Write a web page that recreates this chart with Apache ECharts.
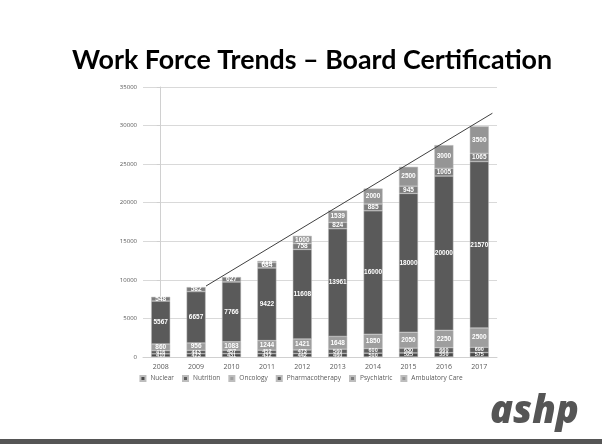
<!DOCTYPE html>
<html><head><meta charset="utf-8">
<script src="https://cdn.jsdelivr.net/npm/echarts@6/dist/echarts.min.js"></script>
<style>html,body{margin:0;padding:0;background:#fff}#c{width:602px;height:444px}</style>
</head><body><div id="c"></div>
<script>
const years = ['2008','2009','2010','2011','2012','2013','2014','2015','2016','2017'];
const nuclear = [410, 423, 431, 432, 442, 460, 500, 525, 550, 575];
const nutrition = [416, 443, 457, 452, 473, 560, 600, 630, 660, 690];
const oncology = [860, 956, 1083, 1244, 1421, 1648, 1850, 2050, 2250, 2500];
const pharmacotherapy = [5567, 6657, 7766, 9422, 11608, 13961, 16000, 18000, 20000, 21570];
const psychiatric = [548, 582, 627, 684, 758, 824, 885, 945, 1005, 1065];
const ambulatory = [null, null, null, 218, 1000, 1539, 2000, 2500, 3000, 3500];
const trendX = [1.28, 9.37];
const trendY = [9200, 31600];
const yTicks = [0, 5000, 10000, 15000, 20000, 25000, 30000, 35000];

const chart = echarts.init(document.getElementById('c'));
function bar(name, data, color, fs) {
  return {
    name, type: 'bar', stack: 'a', data, barWidth: 19,
    itemStyle: { color, borderColor: '#bdbdbd', borderWidth: 0.5 },
    label: { show: true, position: 'inside', color: '#fff', fontSize: fs || 6.5, fontWeight: 'bold',
      fontFamily: 'Liberation Sans', formatter: p => p.value == null ? '' : p.value }
  };
}
chart.setOption({
  animation: false,
  backgroundColor: '#fff',
  title: { text: 'Work Force Trends – Board Certification', left: 67, top: 42,
    textStyle: { fontFamily: 'Lato', fontWeight: 'bold', fontSize: 26.8, color: '#000' } },
  grid: { left: 143, right: 105, top: 87, bottom: 87 },
  legend: { bottom: 57, left: 'center', itemWidth: 5, itemHeight: 5, itemGap: 8,
    icon: 'rect', textStyle: { fontSize: 6.5, color: '#595959', fontFamily: 'Open Sans' },
    data: ['Nuclear','Nutrition','Oncology','Pharmacotherapy','Psychiatric','Ambulatory Care'] },
  xAxis: [{ type: 'category', data: years,
    axisLine: { lineStyle: { color: '#d0d0d0' } }, axisTick: { show: false },
    axisLabel: { fontSize: 7, color: '#595959', fontFamily: 'Open Sans', margin: 6 } },
    { type: 'value', min: -0.5, max: 9.5, show: false }],
  yAxis: { type: 'value', min: 0, max: 35000, interval: 5000,
    axisLine: { show: true, lineStyle: { color: '#d0d0d0' } },
    axisTick: { show: true, length: 4, lineStyle: { color: '#d0d0d0' } },
    splitLine: { lineStyle: { color: '#d9d9d9' } },
    axisLabel: { fontSize: 6, color: '#595959', fontFamily: 'Open Sans', margin: 6,
      formatter: v => yTicks.includes(v) ? String(v) : '' } },
  series: [
    bar('Nuclear', nuclear, '#4a4a4a', 5.5),
    bar('Nutrition', nutrition, '#5e5e5e', 5.5),
    bar('Oncology', oncology, '#9e9e9e'),
    bar('Pharmacotherapy', pharmacotherapy, '#5a5a5a'),
    bar('Psychiatric', psychiatric, '#7c7c7c'),
    bar('Ambulatory Care', ambulatory, '#959595'),
    { type: 'line', xAxisIndex: 1, data: trendX.map((x, i) => [x, trendY[i]]),
      symbol: 'none', lineStyle: { color: '#404040', width: 1 }, silent: true, z: 5 }
  ],
  graphic: [
    { type: 'text', left: 490, top: 393, style: { text: 'ashp', fontSize: 38, fontStyle: 'italic',
      fontWeight: 800, fill: '#555', fontFamily: 'Open Sans' } },
    { type: 'rect', left: 0, top: 439, shape: { width: 602, height: 5 }, style: { fill: '#555' } }
  ]
});
</script></body></html>
